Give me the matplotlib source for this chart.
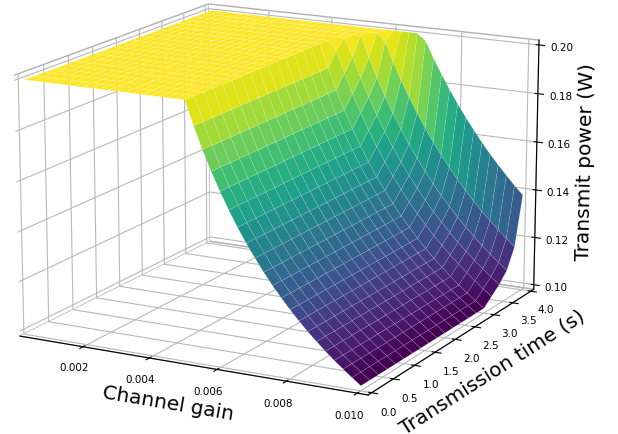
import numpy as np
import matplotlib
matplotlib.use("Agg")
import matplotlib.pyplot as plt

gain_plateau = [0.00025, 0.0005, 0.00075, 0.001, 0.00125, 0.0015, 0.00175, 0.002, 0.00225, 0.0025,
                0.00275, 0.003, 0.00325, 0.0035, 0.00375, 0.004, 0.00425, 0.0045, 0.00475]
gain_slope = [0.005, 0.00525, 0.0055, 0.00575, 0.006, 0.00625, 0.0065, 0.00675, 0.007, 0.00725, 0.0075,
              0.00775, 0.008, 0.00825, 0.0085, 0.00875, 0.009, 0.00925, 0.0095, 0.00975, 0.01]
times = [0.0, 0.2, 0.4, 0.6, 0.8, 1.0, 1.2, 1.4, 1.6, 1.8, 2.0, 2.2, 2.4, 2.6, 2.8, 3.0, 3.2, 3.4, 3.6, 3.8, 4.0]

# power at the capped part, same for every time
power_plateau = [0.2] * len(gain_plateau)

# power read along the gain direction, flat part of the surface
power_flat = [0.2, 0.1905, 0.1818, 0.1739, 0.1667, 0.16, 0.1538, 0.1481, 0.1429, 0.1379, 0.1333,
              0.129, 0.125, 0.1212, 0.1176, 0.1143, 0.1111, 0.1081, 0.1053, 0.1026, 0.1]
# rows near the back of the surface, where it bends upwards
power_t32 = [0.2, 0.1962, 0.1873, 0.1791, 0.1717, 0.1648, 0.1585, 0.1526, 0.1471, 0.1421, 0.1373,
             0.1329, 0.1288, 0.1248, 0.1212, 0.1177, 0.1144, 0.1114, 0.1084, 0.1056, 0.103]
power_t34 = [0.2, 0.2, 0.1927, 0.1843, 0.1767, 0.1696, 0.1631, 0.157, 0.1514, 0.1462, 0.1413,
             0.1368, 0.1325, 0.1285, 0.1247, 0.1211, 0.1178, 0.1146, 0.1116, 0.1087, 0.106]
power_t36 = [0.2, 0.2, 0.2, 0.1913, 0.1833, 0.176, 0.1692, 0.163, 0.1571, 0.1517, 0.1467,
             0.1419, 0.1375, 0.1333, 0.1294, 0.1257, 0.1222, 0.1189, 0.1158, 0.1128, 0.11]
power_t38 = [0.2, 0.2, 0.2, 0.2, 0.1967, 0.1888, 0.1815, 0.1748, 0.1686, 0.1628, 0.1573,
             0.1523, 0.1475, 0.143, 0.1388, 0.1349, 0.1311, 0.1276, 0.1242, 0.121, 0.118]
power_t40 = [0.2, 0.2, 0.2, 0.2, 0.2, 0.2, 0.2, 0.2, 0.1971, 0.1903, 0.184,
             0.1781, 0.1725, 0.1673, 0.1624, 0.1577, 0.1533, 0.1492, 0.1453, 0.1415, 0.138]

rows = [power_flat] * 16 + [power_t32, power_t34, power_t36, power_t38, power_t40]
gain = np.array(gain_plateau + gain_slope)
power = np.array([power_plateau + row for row in rows])
X, Y = np.meshgrid(gain, np.array(times))

fig = plt.figure(figsize=(6.18, 4.34), dpi=100)
ax = fig.add_axes([-0.23, -0.122, 1.35, 1.35], projection="3d")
ax.set_box_aspect((4, 4, 2.75))
ax.view_init(elev=15, azim=-62)
ax.plot_surface(X, Y, power, cmap="viridis", rstride=1, cstride=1, linewidth=0.3,
                edgecolor=(1, 1, 1, 0.25), antialiased=True)
ax.set_xlim(0.00005, 0.0103)
ax.set_ylim(-0.08, 4.08)
ax.set_zlim(0.098, 0.202)

for axis in (ax.xaxis, ax.yaxis, ax.zaxis):
    axis.set_pane_color((1, 1, 1, 1))
    axis.pane.set_edgecolor("#b0b0b0")
    axis._axinfo["grid"]["color"] = "#b8b8b8"
    axis._axinfo["grid"]["linewidth"] = 0.8

ax.set_xticks([0.002, 0.004, 0.006, 0.008, 0.010])
ax.set_yticks([0.0, 0.5, 1.0, 1.5, 2.0, 2.5, 3.0, 3.5, 4.0])
ax.set_zticks([0.10, 0.12, 0.14, 0.16, 0.18, 0.20])
ax.tick_params(labelsize=7.5, pad=2)
ax.set_xlabel("Channel gain", fontsize=14.5, labelpad=2)
ax.set_ylabel("Transmission time (s)", fontsize=14.5, labelpad=2)
ax.set_zlabel("Transmit power (W)", fontsize=14.5, labelpad=1)

fig.savefig("out.png", dpi=100)
